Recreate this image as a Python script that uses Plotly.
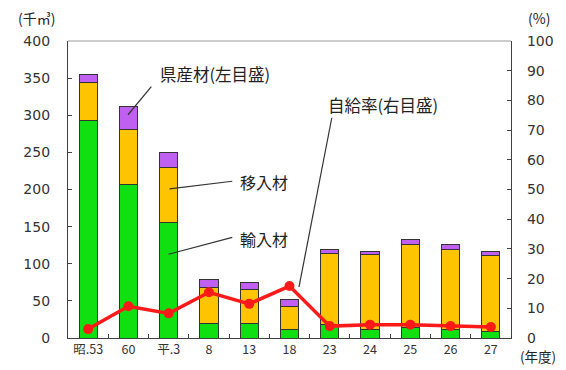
import plotly.graph_objects as go

# 年度
years = ["昭.53", "60", "平.3", "8", "13", "18", "23", "24", "25", "26", "27"]
# 木材供給量 (千㎥)
imported = [293, 207, 156, 19, 19, 11, 18, 11, 13.5, 11, 9]        # 輸入材
moved_in = [51, 74, 74, 48.6, 47, 32, 96, 101, 112.5, 108, 102]   # 移入材
prefectural = [11, 31, 20, 11.4, 9, 9, 5, 5, 7, 7, 6]            # 県産材
# 自給率 (%)
self_rate = [3.0, 10.7, 8.3, 15.4, 11.5, 17.5, 4.0, 4.5, 4.5, 4.0, 3.7]

FONT = "Noto Sans CJK JP"
NUM_FONT = "DejaVu Sans"
W, H = 566, 370
L, R, T, B = 68, 53, 41, 31
PW, PH = W - L - R, H - T - B


def paper(px, py):
    """Pixel position on the page -> paper coordinates."""
    return (px - L) / PW, (H - B - py) / PH


fig = go.Figure()
bar_line = dict(color="#333333", width=1)
fig.add_bar(x=years, y=imported, name="輸入材", marker=dict(color="#10E010", line=bar_line))
fig.add_bar(x=years, y=moved_in, name="移入材", marker=dict(color="#FFC400", line=bar_line))
fig.add_bar(x=years, y=prefectural, name="県産材", marker=dict(color="#C060F0", line=bar_line))
fig.add_scatter(x=years, y=self_rate, name="自給率", yaxis="y2", mode="lines+markers",
                line=dict(color="#FF1A1A", width=3.5),
                marker=dict(color="#FF1A1A", size=10))

axis_font = dict(family=NUM_FONT, size=14, color="#333333")
fig.update_layout(
    width=W, height=H, margin=dict(l=L, r=R, t=T, b=B),
    paper_bgcolor="white", plot_bgcolor="white",
    barmode="stack", bargap=0.55, showlegend=False,
    font=dict(family=FONT, color="#222222"),
    xaxis=dict(type="category", range=[-0.5, 10.5], showline=True, linecolor="#404040",
               linewidth=1.3, ticks="inside", tickson="boundaries", ticklen=4,
               tickcolor="#404040", showgrid=False,
               tickfont=dict(family=FONT, size=12.5, color="#333333")),
    yaxis=dict(range=[0, 400], dtick=50, showline=True, linecolor="#404040", linewidth=1.3,
               ticks="inside", ticklen=4, tickcolor="#404040", showgrid=False, zeroline=False,
               tickfont=axis_font, ticklabelstandoff=14),
    yaxis2=dict(range=[0, 100], dtick=10, overlaying="y", side="right", showline=True,
                linecolor="#404040", linewidth=1.3, ticks="inside", ticklen=4,
                tickcolor="#404040", showgrid=False, zeroline=False,
                tickfont=axis_font, ticklabelstandoff=12),
)

# top border of the plot frame
fig.add_shape(type="line", xref="paper", yref="paper", x0=0, x1=1, y0=1, y1=1,
              line=dict(color="#9a9a9a", width=1))

# leader lines from labels to the marks
leaders = [((151.7, 86.7), (128.3, 115)),
           ((233, 181.7), (170, 189.3)),
           ((233, 238), (169, 255)),
           ((333, 118), (300, 288))]
for (x0, y0), (x1, y1) in leaders:
    a, b = paper(x0, y0)
    c, d = paper(x1, y1)
    fig.add_shape(type="line", xref="paper", yref="paper", x0=a, y0=b, x1=c, y1=d,
                  line=dict(color="#333333", width=1.2))

labels = [("県産材(左目盛)", 216, 74, 16.5),
          ("移入材", 265, 182, 16),
          ("輸入材", 265, 240, 16),
          ("自給率(右目盛)", 384, 105, 16.5),
          ("(千㎥)", 36, 18, 14),
          ("(%)", 541, 18, 14),
          ("(年度)", 540, 357, 13.5)]
for text, px, py, size in labels:
    xp, yp = paper(px, py)
    fig.add_annotation(text=text, x=xp, y=yp, xref="paper", yref="paper",
                       showarrow=False, xanchor="center", yanchor="middle",
                       font=dict(family=FONT, size=size, color="#222222"))

fig.write_html("out.html")
